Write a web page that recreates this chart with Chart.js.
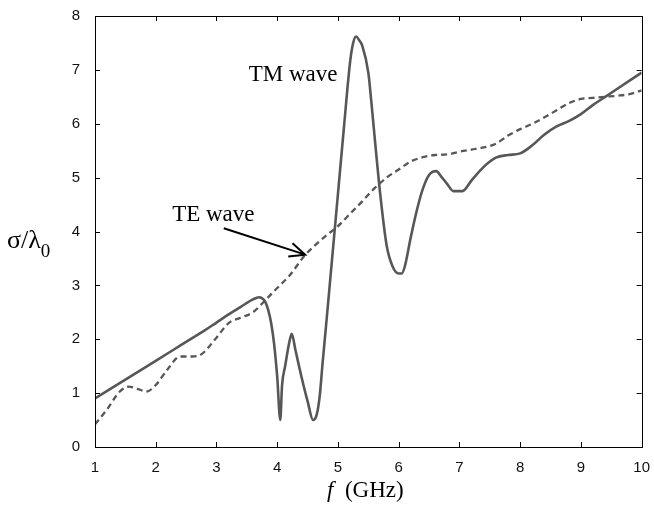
<!DOCTYPE html>
<html>
<head>
<meta charset="utf-8">
<script src="https://cdn.jsdelivr.net/npm/chart.js@4/dist/chart.umd.min.js"></script>
<style>
  html, body { margin: 0; padding: 0; background: #fff; }
  #wrap { width: 654px; height: 510px; }
</style>
</head>
<body>
<div id="wrap"><canvas id="myChart" width="654" height="510"></canvas></div>
<script>
// TM wave (solid line) - frequency in GHz, sigma/lambda0
var tmFreq = [1.0, 1.2, 1.4, 1.6, 1.8, 2.0, 2.2, 2.4, 2.6, 2.8, 3.0, 3.2, 3.4, 3.6, 3.7, 3.8, 3.85, 3.9, 3.95, 4.0,
              4.05, 4.08, 4.13, 4.2, 4.24, 4.3, 4.4, 4.5, 4.59, 4.65, 4.7, 4.75, 4.8, 4.9, 5.0, 5.1, 5.2, 5.25, 5.3, 5.35,
              5.4, 5.5, 5.55, 5.6, 5.7, 5.8, 5.9, 6.0, 6.05, 6.1, 6.2, 6.3, 6.4, 6.5, 6.62, 6.7, 6.8, 6.9, 7.05, 7.2,
              7.4, 7.6, 7.8, 8.0, 8.2, 8.4, 8.6, 8.8, 9.0, 9.2, 9.4, 9.6, 9.8, 10.0];
var tmSigma = [0.9, 1.04, 1.18, 1.32, 1.46, 1.6, 1.74, 1.88, 2.02, 2.16, 2.31, 2.46, 2.6, 2.74, 2.78, 2.7, 2.55, 2.3, 1.9, 1.3,
               0.5, 1.15, 1.5, 1.95, 2.1, 1.8, 1.3, 0.85, 0.5, 0.6, 0.95, 1.6, 2.2, 3.45, 4.7, 5.95, 7.15, 7.5, 7.62, 7.55,
               7.45, 6.95, 6.4, 5.8, 4.65, 3.75, 3.35, 3.22, 3.22, 3.35, 3.9, 4.4, 4.8, 5.05, 5.12, 5.02, 4.88, 4.75, 4.75, 4.95,
               5.2, 5.37, 5.42, 5.45, 5.6, 5.8, 5.95, 6.05, 6.18, 6.35, 6.5, 6.65, 6.8, 6.95];

// TE wave (dashed line)
var teFreq = [1.0, 1.2, 1.4, 1.55, 1.7, 1.85, 2.0, 2.2, 2.4, 2.6, 2.75, 3.0, 3.2, 3.4, 3.6, 3.8, 4.0, 4.2, 4.45, 4.6,
              4.8, 5.0, 5.2, 5.4, 5.6, 5.8, 6.0, 6.2, 6.4, 6.6, 6.8, 7.0, 7.2, 7.4, 7.6, 7.8, 8.0, 8.2, 8.4, 8.6,
              8.8, 9.0, 9.2, 9.4, 9.6, 9.8, 10.0];
var teSigma = [0.42, 0.7, 1.02, 1.12, 1.08, 1.03, 1.15, 1.45, 1.68, 1.68, 1.72, 2.03, 2.3, 2.4, 2.5, 2.72, 2.95, 3.18, 3.55, 3.72,
               3.92, 4.1, 4.33, 4.56, 4.8, 5.0, 5.15, 5.3, 5.38, 5.42, 5.43, 5.48, 5.52, 5.56, 5.63, 5.78, 5.9, 6.0, 6.12, 6.25,
               6.38, 6.46, 6.48, 6.5, 6.52, 6.55, 6.62];

var xRange = [1, 10];
var yRange = [0, 8];

function pairs(xs, ys) {
    var out = [];
    for (var i = 0; i < xs.length; i++) {
        out.push({x: xs[i], y: ys[i]});
    }
    return out;
}

var lineColor = '#575757';
var serif = '"Liberation Serif", "Times New Roman", serif';
var tickFont = { family: '"Liberation Sans Narrow", "Arial Narrow", "Liberation Sans", sans-serif', size: 15 };

// box, inward ticks, axis titles and the two annotations
var framePlugin = {
    id: 'frame',
    afterDraw: function (chart) {
        var ctx = chart.ctx;
        var a = chart.chartArea;
        var x = chart.scales.x, y = chart.scales.y;
        ctx.save();
        ctx.strokeStyle = '#000';
        ctx.lineWidth = 1;
        ctx.strokeRect(Math.round(a.left) + 0.5, Math.round(a.top) + 0.5,
                       Math.round(a.right - a.left), Math.round(a.bottom - a.top));
        ctx.beginPath();
        x.ticks.forEach(function (t) {
            var px = Math.round(x.getPixelForValue(t.value)) + 0.5;
            ctx.moveTo(px, a.bottom); ctx.lineTo(px, a.bottom - 5);
            ctx.moveTo(px, a.top); ctx.lineTo(px, a.top + 5);
        });
        y.ticks.forEach(function (t) {
            var py = Math.round(y.getPixelForValue(t.value)) + 0.5;
            ctx.moveTo(a.left, py); ctx.lineTo(a.left + 5, py);
            ctx.moveTo(a.right, py); ctx.lineTo(a.right - 5, py);
        });
        ctx.stroke();

        // x axis title: f (GHz)
        ctx.fillStyle = '#000';
        ctx.textBaseline = 'alphabetic';
        ctx.textAlign = 'left';
        ctx.font = 'italic 23px ' + serif;
        var fW = ctx.measureText('f').width;
        ctx.font = '23px ' + serif;
        var restW = ctx.measureText('  (GHz)').width;
        var cx = (a.left + a.right) / 2 - 3;
        var sx = cx - (fW + restW) / 2;
        ctx.font = 'italic 23px ' + serif;
        ctx.fillText('f', sx, 497);
        ctx.font = '23px ' + serif;
        ctx.fillText('  (GHz)', sx + fW, 497);

        // y axis title: sigma / lambda0
        ctx.font = '26px ' + serif;
        ctx.fillText('\u03c3/\u03bb', 7, 248);
        var w = ctx.measureText('\u03c3/\u03bb').width;
        ctx.font = '19px ' + serif;
        ctx.fillText('0', 7 + w, 257);

        // annotations
        ctx.font = '23px ' + serif;
        ctx.fillText('TM wave', x.getPixelForValue(3.53), y.getPixelForValue(6.8));
        ctx.fillText('TE wave', x.getPixelForValue(2.27), y.getPixelForValue(4.2));

        var x0 = x.getPixelForValue(3.12), y0 = y.getPixelForValue(4.06);
        var x1 = x.getPixelForValue(4.46), y1 = y.getPixelForValue(3.57);
        ctx.strokeStyle = '#000';
        ctx.lineWidth = 2;
        ctx.beginPath();
        ctx.moveTo(x0, y0); ctx.lineTo(x1, y1);
        var ang = Math.atan2(y1 - y0, x1 - x0);
        var hl = 17, hw = 0.42;
        ctx.moveTo(x1 - hl * Math.cos(ang - hw), y1 - hl * Math.sin(ang - hw));
        ctx.lineTo(x1, y1);
        ctx.lineTo(x1 - hl * Math.cos(ang + hw), y1 - hl * Math.sin(ang + hw));
        ctx.stroke();
        ctx.restore();
    }
};

var ctx = document.getElementById('myChart').getContext('2d');
var chart = new Chart(ctx, {
    type: 'scatter',
    data: {
        datasets: [{
            label: 'TM wave',
            data: pairs(tmFreq, tmSigma),
            showLine: true,
            borderColor: lineColor,
            borderWidth: 2.6,
            pointRadius: 0,
            cubicInterpolationMode: 'monotone'
        }, {
            label: 'TE wave',
            data: pairs(teFreq, teSigma),
            showLine: true,
            borderColor: lineColor,
            borderWidth: 2.3,
            borderDash: [6, 4],
            pointRadius: 0,
            cubicInterpolationMode: 'monotone'
        }]
    },
    options: {
        responsive: false,
        animation: false,
        layout: { padding: { left: 0, top: 13, right: 8, bottom: 0 } },
        plugins: { legend: { display: false }, tooltip: { enabled: false } },
        scales: {
            x: {
                type: 'linear',
                min: xRange[0], max: xRange[1],
                grid: { display: false },
                border: { display: false },
                ticks: { stepSize: 1, padding: 4, color: '#111', font: tickFont },
                afterFit: function (s) { s.height = 63; }
            },
            y: {
                type: 'linear',
                min: yRange[0], max: yRange[1],
                grid: { display: false },
                border: { display: false },
                ticks: { stepSize: 1, padding: 7, color: '#111', font: tickFont },
                afterFit: function (s) { s.width = 95; }
            }
        }
    },
    plugins: [framePlugin]
});
</script>
</body>
</html>
